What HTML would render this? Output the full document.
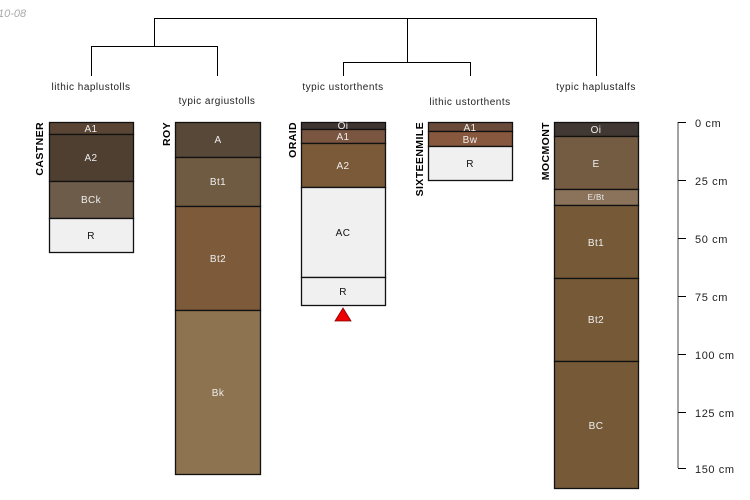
<!DOCTYPE html>
<html><head><style>html,body{margin:0;padding:0;background:#fff}svg{display:block}</style></head><body>
<svg width="750" height="500" viewBox="0 0 750 500" xmlns="http://www.w3.org/2000/svg" font-family="Liberation Sans, sans-serif">
<text x="-2" y="17" font-size="11" fill="#aaa" font-style="italic">10-08</text>
<g stroke="#000" stroke-width="1" fill="none">
<path d="M154.5 46V18.5H596.5V76M91.5 76V46.5H217.5V76M407.5 18.5V62.5M343.5 76V62.5H470.5V76"/>
</g>
<g font-size="10" fill="#222" text-anchor="middle" letter-spacing="0.5">
<text x="91" y="90">lithic haplustolls</text>
<text x="217" y="104">typic argiustolls</text>
<text x="343" y="90">typic ustorthents</text>
<text x="470" y="105">lithic ustorthents</text>
<text x="596" y="90">typic haplustalfs</text>
</g>
<g stroke="#111" stroke-width="1.3">
<rect x="49.5" y="122.5" width="84" height="12" fill="#5a4535"/>
<rect x="49.5" y="134.5" width="84" height="47" fill="#4f3f30"/>
<rect x="49.5" y="181.5" width="84" height="37" fill="#6e5c4b"/>
<rect x="49.5" y="218.5" width="84" height="34" fill="#f0f0f0"/>
<rect x="175.5" y="122.5" width="85" height="35" fill="#574838"/>
<rect x="175.5" y="157.5" width="85" height="49" fill="#6f5a42"/>
<rect x="175.5" y="206.5" width="85" height="104" fill="#7c5a3a"/>
<rect x="175.5" y="310.5" width="85" height="164" fill="#8e7350"/>
<rect x="301.5" y="122.5" width="84" height="7" fill="#3f3530"/>
<rect x="301.5" y="129.5" width="84" height="14" fill="#7a5540"/>
<rect x="301.5" y="143.5" width="84" height="44" fill="#7a5a38"/>
<rect x="301.5" y="187.5" width="84" height="90" fill="#f0f0f0"/>
<rect x="301.5" y="277.5" width="84" height="28" fill="#f0f0f0"/>
<rect x="428.5" y="122.5" width="84" height="9" fill="#6a4a38"/>
<rect x="428.5" y="131.5" width="84" height="15" fill="#87583e"/>
<rect x="428.5" y="146.5" width="84" height="34" fill="#f0f0f0"/>
<rect x="554.5" y="122.5" width="84" height="14" fill="#413833"/>
<rect x="554.5" y="136.5" width="84" height="53" fill="#735c42"/>
<rect x="554.5" y="189.5" width="84" height="16" fill="#8a735a"/>
<rect x="554.5" y="205.5" width="84" height="73" fill="#765a38"/>
<rect x="554.5" y="278.5" width="84" height="83" fill="#765a38"/>
<rect x="554.5" y="361.5" width="84" height="127" fill="#765a38"/>
</g>
<polygon points="343,308 351,321 335,321" fill="#e00" stroke="#800" stroke-width="0.8"/>
<g font-size="10" text-anchor="middle" fill="#eee" letter-spacing="0.4">
<text x="91" y="132">A1</text><text x="91" y="161">A2</text><text x="91" y="203">BCk</text><text x="91" y="239" fill="#111">R</text>
<text x="218" y="143">A</text><text x="218" y="185">Bt1</text><text x="218" y="262">Bt2</text><text x="218" y="396">Bk</text>
<text x="343" y="129">Oi</text><text x="343" y="140">A1</text><text x="343" y="169">A2</text><text x="343" y="236" fill="#111">AC</text><text x="343" y="295" fill="#111">R</text>
<text x="470" y="131">A1</text><text x="470" y="143">Bw</text><text x="470" y="167" fill="#111">R</text>
<text x="596" y="133">Oi</text><text x="596" y="167">E</text><text x="596" y="200" font-size="8">E/Bt</text><text x="596" y="246">Bt1</text><text x="596" y="323">Bt2</text><text x="596" y="429">BC</text>
</g>
<g font-size="10.5" font-weight="bold" fill="#000" text-anchor="end" letter-spacing="0.4">
<text transform="translate(43,122) rotate(-90)">CASTNER</text>
<text transform="translate(170,122) rotate(-90)">ROY</text>
<text transform="translate(296,122) rotate(-90)">ORAID</text>
<text transform="translate(423,122) rotate(-90)">SIXTEENMILE</text>
<text transform="translate(549,122) rotate(-90)">MOCMONT</text>
</g>
<g stroke="#666" stroke-width="1.2">
<line x1="678" y1="122" x2="678" y2="468"/>
<path d="M678 122.5h8M678 180.5h8M678 238.5h8M678 296.5h8M678 354.5h8M678 412.5h8M678 468.5h8" stroke="#000" stroke-width="1"/>
</g>
<g font-size="11" fill="#222" letter-spacing="0.6">
<text x="695" y="127">0 cm</text><text x="695" y="185">25 cm</text><text x="695" y="243">50 cm</text><text x="695" y="301">75 cm</text><text x="695" y="359">100 cm</text><text x="695" y="417">125 cm</text><text x="695" y="473">150 cm</text>
</g>
</svg>
</body></html>
